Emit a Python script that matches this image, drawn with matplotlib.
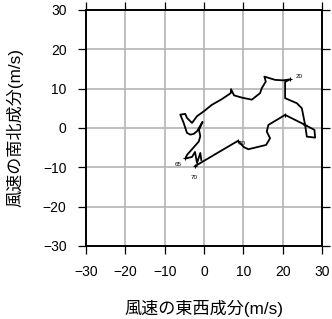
import numpy as np
import matplotlib
matplotlib.use('Agg')
import matplotlib.pyplot as plt

# wind components (m/s)
u = [-2.21, 8.58, 10.18, 11.27, 15.78, 16.79, 15.95, 16.36, 18.50, 20.61,
     25.70, 28.07, 28.24, 26.13, 25.70, 24.86, 23.59, 20.61, 20.61, 21.88,
     20.10, 18.07, 15.34, 15.70, 14.68, 14.25, 12.14, 9.59, 7.63, 6.87,
     6.79, 4.50, 1.96, -0.08, -1.78, -3.05, -4.33, -4.76, -6.03, -5.17,
     -4.76, -4.33, -3.49, -2.62, -1.78, -0.38, -1.27, -0.94, -1.35, -4.33,
     -4.71, -3.05, -2.29, -1.78, -0.94, -0.69]
v = [-9.67, -3.31, -4.91, -5.42, -4.33, -2.62, -0.94, 0.76, 2.04, 3.31,
     0.76, -0.51, -2.47, -2.21, 0.76, 5.01, 6.28, 7.56, 11.70, 12.34,
     12.09, 12.21, 13.05, 11.78, 10.10, 8.83, 7.18, 7.71, 8.27, 9.85,
     8.83, 7.30, 5.85, 4.20, 2.98, 1.27, 2.54, 3.56, 3.38, 1.27,
     0.0, -1.27, -1.70, -1.53, -0.84, 1.53, -0.51, -2.11, -3.49, -6.87,
     -7.76, -7.38, -6.11, -8.91, -6.36, -8.14]

# labelled points: index into u/v and text
lab_idx = [19, 1, 50, 0]
lab_txt = ['20', '50', '65', '70']
lab_off = [(4, 2), (1, -2), (-8, -4), (-3, -8)]
tick_idx = [0, 1, 9, 10, 19, 50]

plt.rcParams['font.family'] = ['Liberation Sans', 'Noto Sans CJK JP', 'DejaVu Sans']

fig = plt.figure(figsize=(3.32, 3.19), dpi=100)
ax = fig.add_axes([0.259, 0.229, 0.711, 0.740])

ax.plot(u, v, color='black', lw=1.3, zorder=3)
ax.plot([u[i] for i in tick_idx], [v[i] for i in tick_idx], ls='none',
        marker='+', ms=3, mew=0.8, color='black', zorder=3)
for i, t, off in zip(lab_idx, lab_txt, lab_off):
    ax.annotate(t, (u[i], v[i]), xytext=off, textcoords='offset points',
                fontsize=4.5, ha='left', va='center')

ax.set_xlim(-30, 30)
ax.set_ylim(-30, 30)
ticks = np.arange(-30, 31, 10)
ax.set_xticks(ticks)
ax.set_yticks(ticks)
ax.grid(True, color='#b4b4b4', lw=1.2)
ax.set_axisbelow(True)
for s in ax.spines.values():
    s.set_linewidth(1.4)
ax.tick_params(direction='out', length=6, width=0.9, labelsize=10,
               top=True, right=True)
ax.tick_params(axis='x', pad=8)
ax.tick_params(axis='y', pad=8)

ax.set_xlabel('風速の東西成分(m/s)', fontsize=12.3, labelpad=15)
ax.set_ylabel('風速の南北成分(m/s)', fontsize=12.3, labelpad=14)

fig.savefig('out.png', dpi=100)
